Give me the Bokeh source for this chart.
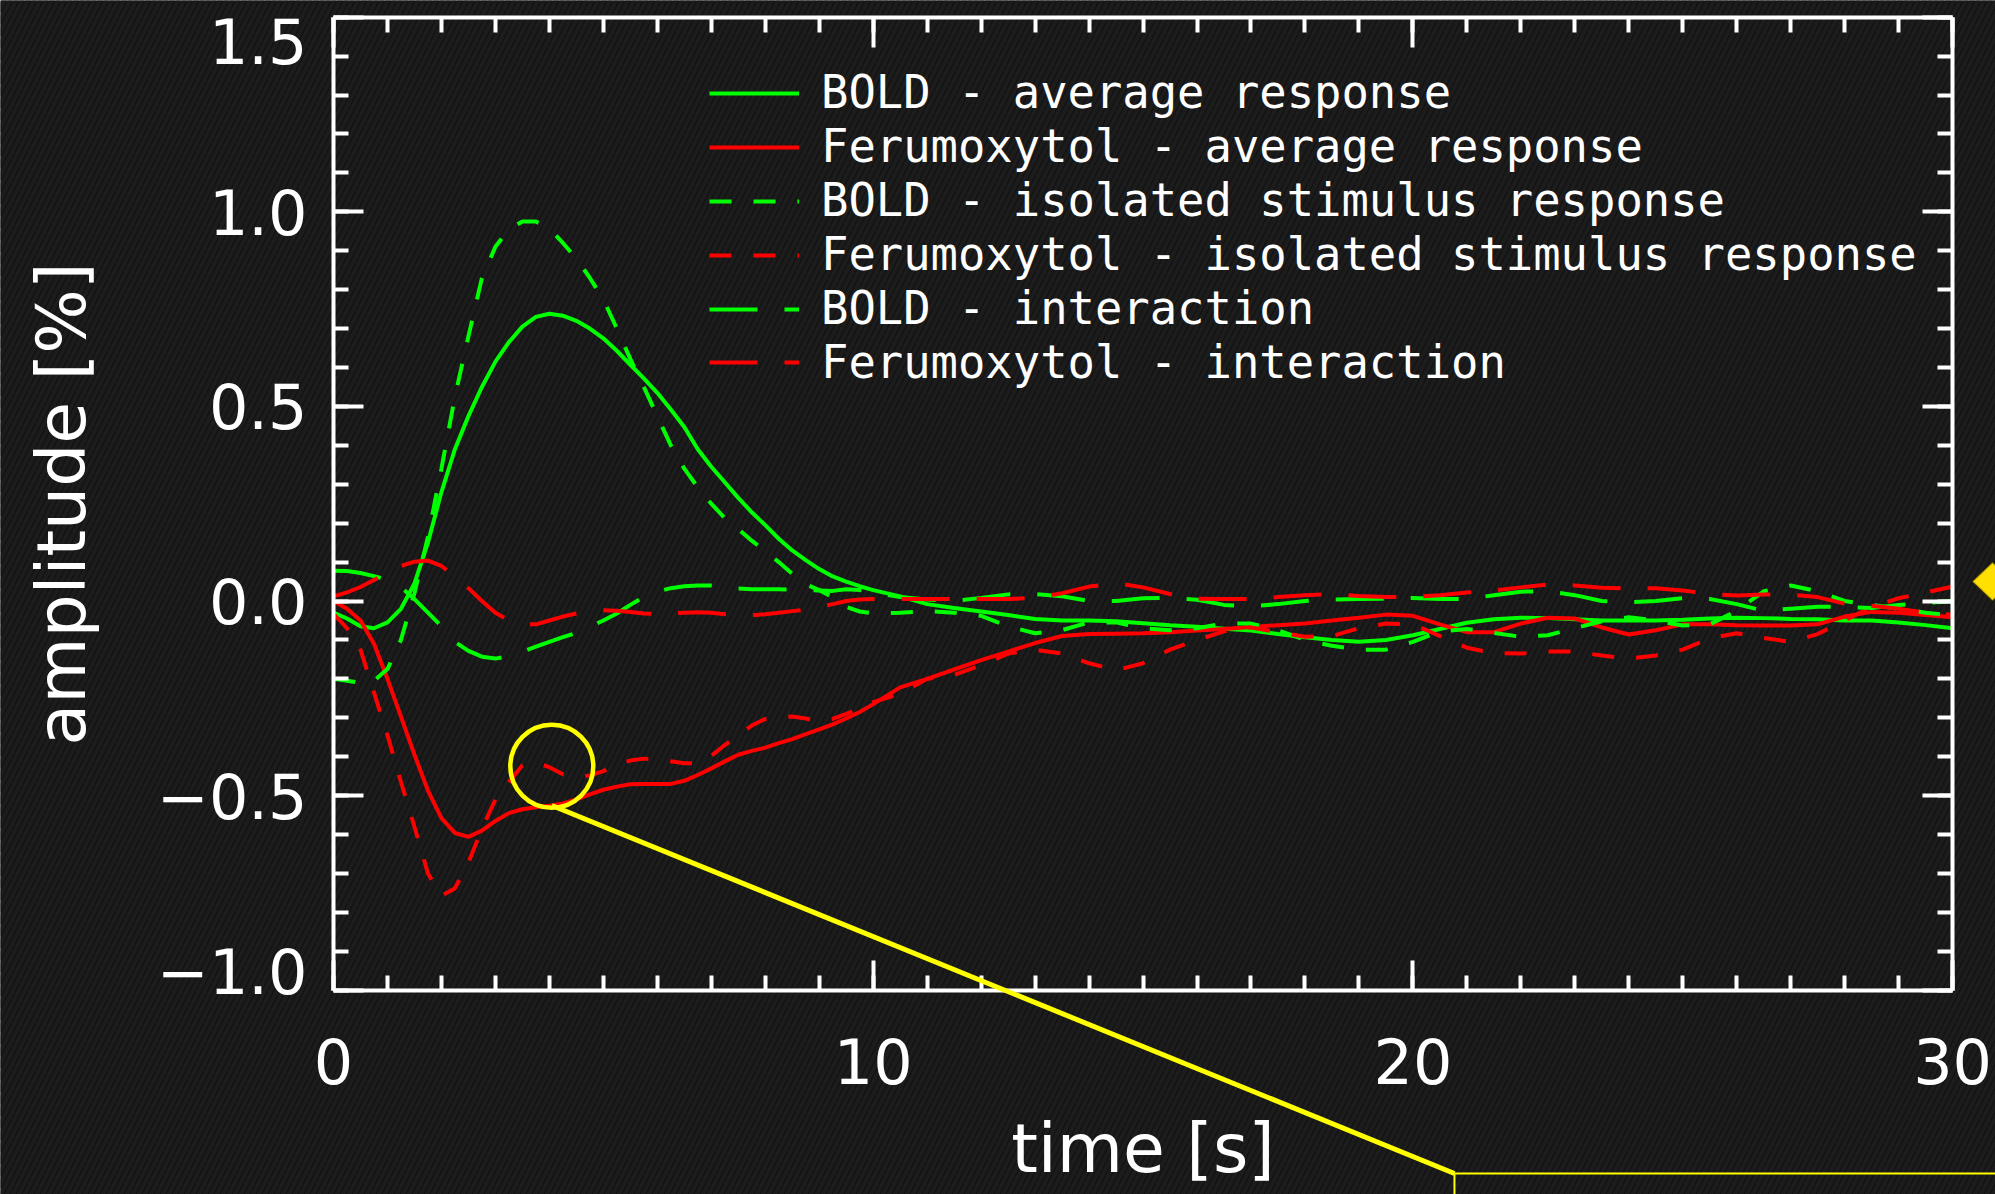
import numpy as np
from bokeh.plotting import figure
from bokeh.models import (Range1d, LinearAxis, FixedTicker, Legend, LegendItem,
                          Arrow, BoxAnnotation, PolyAnnotation, ColumnDataSource)
from bokeh.embed import file_html
from bokeh.resources import INLINE

# ---------------- data ----------------
time_early = [i * 0.25 for i in range(41)]          # 0 .. 10 s
time_late = [10.5 + i * 0.5 for i in range(40)]     # 10.5 .. 30 s
time_s = time_early + time_late

bold_avg = [-0.03, -0.045, -0.065, -0.07, -0.055, -0.02, 0.045, 0.15, 0.28, 0.39,
            0.475, 0.55, 0.615, 0.665, 0.705, 0.73, 0.738, 0.733, 0.72, 0.70,
            0.675, 0.643, 0.607, 0.572, 0.535, 0.492, 0.447, 0.39, 0.345, 0.305,
            0.265, 0.228, 0.195, 0.16, 0.13, 0.105, 0.082, 0.063, 0.05, 0.038, 0.028,
            0.012, -0.008, -0.018, -0.027, -0.036, -0.046, -0.05, -0.05, -0.052, -0.057,
            -0.062, -0.066, -0.071, -0.076, -0.085, -0.093, -0.1, -0.105, -0.1, -0.088,
            -0.072, -0.056, -0.047, -0.043, -0.044, -0.047, -0.05, -0.05, -0.05, -0.048,
            -0.045, -0.043, -0.044, -0.046, -0.047, -0.05, -0.05, -0.055, -0.062, -0.07]

fero_avg = [0.0, -0.02, -0.05, -0.11, -0.2, -0.297, -0.395, -0.487, -0.558, -0.596,
            -0.606, -0.59, -0.565, -0.545, -0.535, -0.53, -0.526, -0.52, -0.51, -0.497,
            -0.485, -0.477, -0.471, -0.47, -0.47, -0.47, -0.462, -0.447, -0.43, -0.412,
            -0.395, -0.385, -0.377, -0.365, -0.355, -0.342, -0.33, -0.317, -0.302, -0.285, -0.265,
            -0.222, -0.2, -0.176, -0.152, -0.13, -0.108, -0.09, -0.085, -0.084, -0.083,
            -0.08, -0.076, -0.072, -0.067, -0.062, -0.058, -0.05, -0.043, -0.035, -0.038,
            -0.06, -0.08, -0.08, -0.058, -0.043, -0.045, -0.068, -0.086, -0.075, -0.06,
            -0.06, -0.062, -0.063, -0.063, -0.06, -0.04, -0.028, -0.03, -0.036, -0.042]

bold_iso = [-0.2, -0.205, -0.21, -0.205, -0.175, -0.1, 0.02, 0.165, 0.34, 0.525,
            0.68, 0.83, 0.91, 0.955, 0.975, 0.975, 0.957, 0.92, 0.88, 0.83,
            0.775, 0.70, 0.622, 0.55, 0.475, 0.40, 0.34, 0.292, 0.25, 0.213,
            0.185, 0.155, 0.128, 0.1, 0.07, 0.043, 0.028, 0.01, -0.015, -0.027, -0.032,
            -0.03, -0.026, -0.03, -0.038, -0.065, -0.083, -0.075, -0.055, -0.055, -0.07,
            -0.075, -0.07, -0.058, -0.058, -0.075, -0.1, -0.115, -0.125, -0.125, -0.105,
            -0.078, -0.072, -0.082, -0.092, -0.088, -0.07, -0.052, -0.042, -0.05, -0.063,
            -0.06, -0.025, 0.025, 0.04, 0.025, 0.0, -0.01, -0.02, -0.03, -0.037]

fero_iso = [-0.033, -0.07, -0.125, -0.235, -0.345, -0.465, -0.58, -0.70, -0.758, -0.738,
            -0.672, -0.585, -0.51, -0.465, -0.422, -0.415, -0.427, -0.445, -0.453, -0.448,
            -0.437, -0.42, -0.41, -0.405, -0.407, -0.412, -0.417, -0.417, -0.398, -0.37,
            -0.345, -0.32, -0.303, -0.298, -0.297, -0.302, -0.309, -0.303, -0.29, -0.275, -0.26,
            -0.238, -0.2, -0.19, -0.165, -0.135, -0.125, -0.135, -0.16, -0.178, -0.16,
            -0.125, -0.1, -0.078, -0.068, -0.08, -0.092, -0.09, -0.07, -0.058, -0.06,
            -0.09, -0.12, -0.134, -0.135, -0.13, -0.13, -0.14, -0.148, -0.14, -0.125,
            -0.096, -0.083, -0.095, -0.105, -0.085, -0.05, -0.015, 0.007, 0.022, 0.037]

bold_int = [0.078, 0.077, 0.072, 0.064, 0.055, 0.035, 0.005, -0.03, -0.065, -0.105,
            -0.128, -0.143, -0.148, -0.142, -0.13, -0.117, -0.105, -0.093, -0.082, -0.066,
            -0.05, -0.032, -0.01, 0.01, 0.024, 0.033, 0.038, 0.04, 0.04, 0.037,
            0.032, 0.03, 0.03, 0.03, 0.029, 0.028, 0.027, 0.026, 0.03, 0.028, 0.022,
            0.01, 0.004, 0.0, 0.008, 0.017, 0.018, 0.012, 0.0, 0.0, 0.007,
            0.008, 0.003, -0.01, -0.014, -0.008, 0.0, 0.004, 0.005, 0.006, 0.008,
            0.005, 0.005, 0.015, 0.024, 0.025, 0.015, 0.0, -0.003, 0.0, 0.007,
            0.005, -0.008, -0.025, -0.02, -0.015, -0.015, -0.018, -0.01, -0.005, 0.0]

fero_int = [0.012, 0.022, 0.036, 0.054, 0.072, 0.09, 0.101, 0.104, 0.09, 0.063,
            0.033, 0.0, -0.03, -0.05, -0.06, -0.06, -0.05, -0.04, -0.032, -0.027,
            -0.024, -0.025, -0.028, -0.032, -0.033, -0.032, -0.03, -0.029, -0.03, -0.034,
            -0.037, -0.037, -0.034, -0.03, -0.026, -0.022, -0.015, -0.008, 0.0, 0.004, 0.005,
            0.005, 0.005, 0.005, 0.005, 0.005, 0.008, 0.02, 0.037, 0.046, 0.035,
            0.018, 0.006, 0.005, 0.005, 0.01, 0.015, 0.018, 0.013, 0.01, 0.01,
            0.015, 0.022, 0.027, 0.035, 0.042, 0.04, 0.034, 0.032, 0.033, 0.027,
            0.018, 0.014, 0.017, 0.016, 0.01, -0.007, -0.012, -0.02, -0.03, -0.035]

series_labels = ["BOLD - average response",
                 "Ferumoxytol - average response",
                 "BOLD - isolated stimulus response",
                 "Ferumoxytol - isolated stimulus response",
                 "BOLD - interaction",
                 "Ferumoxytol - interaction"]

x_ticks = [0, 10, 20, 30]
y_ticks = [-1.0, -0.5, 0.0, 0.5, 1.0, 1.5]
y_tick_labels = ["\u22121.0", "\u22120.5", "0.0", "0.5", "1.0", "1.5"]
# where the y tick labels sit (end labels are pulled inside the axis span)
y_label_pos = [-0.9514, -0.5, 0.0, 0.5, 1.0, 1.4376]

X_LIM = (0, 30)
Y_LIM = (-1.0, 1.5)

# callout annotation (circle around a point and leader line to an inset)
callout_x, callout_y = 4.045, -0.4245
leader_start = (4.045, -0.5255)
leader_end = (20.77, -1.471)
icon_xs = [30.37, 30.74, 31.11, 30.74]
icon_ys = [0.05, 0.099, 0.05, 0.0013]

# ---------------- styling ----------------
FONT = "DejaVu Sans"
LEGEND_FONT = "DejaVu Sans Mono"
GREEN = "#00ff00"
RED = "#ff0000"
YELLOW = "#ffff00"
WHITE = "#ffffff"
BG = "#121212"

W, H = 1995, 1194
PX_LEFT, PX_TOP = 333, 16.7          # pixel position of (0, 1.5)
PX_PER_X, PX_PER_Y = 53.97, 389.2

x_range = Range1d(-PX_LEFT / PX_PER_X, (W - PX_LEFT) / PX_PER_X)
y_range = Range1d(Y_LIM[1] - (H - PX_TOP) / PX_PER_Y, Y_LIM[1] + PX_TOP / PX_PER_Y)

p = figure(width=W, height=H, x_range=x_range, y_range=y_range,
           output_backend="svg", toolbar_location=None,
           min_border=0, min_border_left=0, min_border_right=0,
           min_border_top=0, min_border_bottom=0,
           background_fill_color=BG, border_fill_color=BG,
           outline_line_color=None)
p.grid.visible = False

# subtle carbon-like texture
p.add_layout(BoxAnnotation(fill_color=BG, fill_alpha=1.0,
                           hatch_pattern="/", hatch_color="#1c1c1c",
                           hatch_scale=12, hatch_weight=4,
                           line_alpha=0, level="underlay"))

src = ColumnDataSource(dict(t=time_s, bold_avg=bold_avg, fero_avg=fero_avg,
                            bold_iso=bold_iso, fero_iso=fero_iso,
                            bold_int=bold_int, fero_int=fero_int))

LW = 4
r1 = p.line("t", "bold_avg", source=src, line_color=GREEN, line_width=LW)
r2 = p.line("t", "fero_avg", source=src, line_color=RED, line_width=LW)
r3 = p.line("t", "bold_iso", source=src, line_color=GREEN, line_width=LW, line_dash="22 22")
r4 = p.line("t", "fero_iso", source=src, line_color=RED, line_width=LW, line_dash="22 22")
r5 = p.line("t", "bold_int", source=src, line_color=GREEN, line_width=LW, line_dash="48 27")
r6 = p.line("t", "fero_int", source=src, line_color=RED, line_width=LW, line_dash="48 27")

# callout
p.scatter([callout_x], [callout_y], marker="circle", size=83, fill_alpha=0,
          line_color=YELLOW, line_width=4.5)
p.add_layout(Arrow(end=None, x_start=leader_start[0], y_start=leader_start[1],
                   x_end=leader_end[0], y_end=leader_end[1],
                   line_color=YELLOW, line_width=5))
p.add_layout(Arrow(end=None, x_start=leader_end[0], y_start=leader_end[1],
                   x_end=x_range.end + 1, y_end=leader_end[1], line_color=YELLOW, line_width=2))
p.add_layout(Arrow(end=None, x_start=leader_end[0], y_start=leader_end[1],
                   x_end=leader_end[0], y_end=y_range.start - 1, line_color=YELLOW, line_width=2))
p.add_layout(PolyAnnotation(xs=icon_xs, ys=icon_ys,
                            fill_color="#ffe000", fill_alpha=1, line_color="#5a4a00",
                            line_width=2))

# legend: one row per entry so that the row pitch matches the original
LEG_X = 709
LEG_ROW0, LEG_PITCH, LEG_ROW_H = 92.9, 53.9, 54
for i, (lab, r) in enumerate(zip(series_labels, [r1, r2, r3, r4, r5, r6])):
    cy = LEG_ROW0 + LEG_PITCH * i
    leg = Legend(items=[LegendItem(label=lab, renderers=[r])],
                 location=(LEG_X, H - cy - LEG_ROW_H / 2), orientation="vertical",
                 background_fill_alpha=0, border_line_alpha=0,
                 padding=0, margin=0, spacing=0,
                 glyph_width=90, glyph_height=LEG_ROW_H, label_height=LEG_ROW_H,
                 label_standoff=22,
                 label_text_font=LEGEND_FONT, label_text_font_size="45.5px",
                 label_text_color=WHITE)
    p.add_layout(leg, "center")

# axes
def style_axis(ax, ticks=True):
    ax.axis_line_color = WHITE
    ax.axis_line_width = 4
    ax.major_tick_line_color = WHITE
    ax.major_tick_line_width = 4
    ax.minor_tick_line_color = WHITE
    ax.minor_tick_line_width = 4
    ax.major_tick_in = 30 if ticks else 0
    ax.major_tick_out = 0
    ax.minor_tick_in = 15 if ticks else 0
    ax.minor_tick_out = 0
    ax.major_label_text_color = WHITE
    ax.major_label_text_font = FONT
    ax.axis_label_text_color = WHITE
    ax.axis_label_text_font = FONT
    ax.axis_label_text_font_style = "normal"

x_minor = list(range(X_LIM[0], X_LIM[1] + 1))
y_minor = [round(Y_LIM[0] + 0.1 * i, 2) for i in range(26)]

# bottom axis: drawn at y = -1.0
xa = p.xaxis[0]
xa.ticker = FixedTicker(ticks=x_ticks, minor_ticks=x_minor)
style_axis(xa)
xa.fixed_location = Y_LIM[0]
xa.bounds = X_LIM
xa.major_label_text_font_size = "62px"
xa.major_label_standoff = 48
xa.axis_label = "time [s]"
xa.axis_label_text_font_size = "68px"
xa.axis_label_standoff = 21

# left axis carrying the tick labels and title
ya = p.yaxis[0]
ya.ticker = FixedTicker(ticks=y_label_pos, minor_ticks=[])
style_axis(ya, ticks=False)
ya.axis_line_color = None
ya.fixed_location = X_LIM[0]
ya.bounds = Y_LIM
ya.major_label_text_font_size = "62px"
ya.major_label_standoff = 26
ya.major_label_overrides = {pos: lab for pos, lab in zip(y_label_pos, y_tick_labels)}
ya.axis_label = "amplitude [%]"
ya.axis_label_text_font_size = "68px"
ya.axis_label_standoff = 53

# left axis carrying the spine and ticks
yl = LinearAxis(ticker=FixedTicker(ticks=y_ticks, minor_ticks=y_minor))
style_axis(yl)
yl.fixed_location = X_LIM[0]
yl.bounds = Y_LIM
yl.major_label_text_color = None
p.add_layout(yl, "left")

top = LinearAxis(ticker=FixedTicker(ticks=x_ticks, minor_ticks=x_minor))
style_axis(top)
top.fixed_location = Y_LIM[1]
top.bounds = X_LIM
top.major_label_text_color = None
p.add_layout(top, "above")

right = LinearAxis(ticker=FixedTicker(ticks=y_ticks, minor_ticks=y_minor))
style_axis(right)
right.fixed_location = X_LIM[1]
right.bounds = Y_LIM
right.major_label_text_color = None
p.add_layout(right, "right")

open("out.html", "w").write(file_html(p, INLINE))
